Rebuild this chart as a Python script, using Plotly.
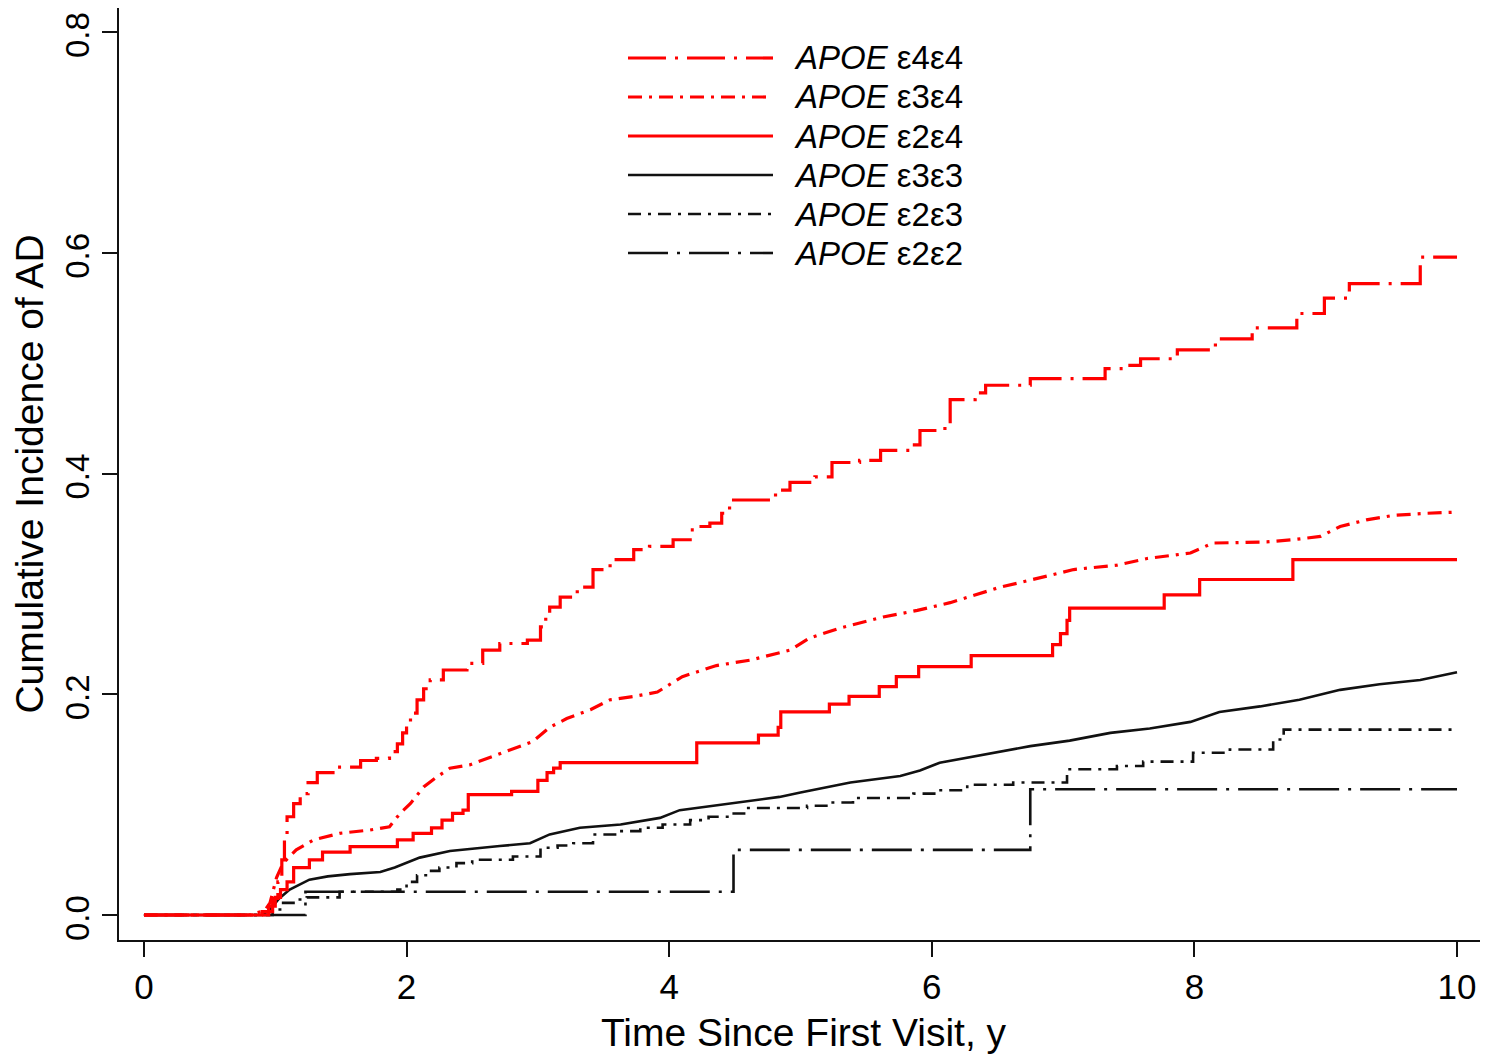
import plotly.graph_objects as go

# ---------------- data ----------------
genotypes = ["ε4ε4", "ε3ε4", "ε2ε4", "ε3ε3", "ε2ε3", "ε2ε2"]

e44_x = [0, 0.9, 0.98, 1.02, 1.05, 1.07, 1.09, 1.14, 1.19, 1.25, 1.32, 1.47, 1.65, 1.77, 1.87,
         1.93, 1.97, 2.0, 2.03, 2.08, 2.13, 2.18, 2.28, 2.46, 2.58, 2.71, 2.92, 3.02, 3.06, 3.09,
         3.17, 3.3, 3.42, 3.55, 3.73, 3.85, 4.03, 4.16, 4.23, 4.31, 4.4, 4.46, 4.81, 4.92, 5.11,
         5.24, 5.45, 5.61, 5.83, 5.91, 6.1, 6.14, 6.33, 6.41, 6.75, 7.32, 7.47, 7.59, 7.87, 8.16,
         8.44, 8.78, 8.99, 9.18, 9.72, 10]
e44_y = [0, 0.003, 0.015, 0.03, 0.05, 0.068, 0.089, 0.101, 0.11, 0.12, 0.129, 0.134, 0.14, 0.142, 0.148,
         0.155, 0.165, 0.175, 0.183, 0.195, 0.205, 0.213, 0.222, 0.228, 0.24, 0.246, 0.249, 0.261, 0.27, 0.279,
         0.288, 0.297, 0.313, 0.322, 0.331, 0.334, 0.34, 0.349, 0.352, 0.355, 0.364, 0.376, 0.385, 0.392, 0.397,
         0.41, 0.412, 0.421, 0.426, 0.439, 0.447, 0.467, 0.473, 0.48, 0.486, 0.495, 0.498, 0.504, 0.512, 0.522,
         0.532, 0.545, 0.559, 0.572, 0.596, 0.596]

e34_x = [0, 0.8, 0.92, 0.96, 1.01, 1.06, 1.16, 1.29, 1.49, 1.72, 1.87, 1.95, 2.03, 2.13, 2.23, 2.33,
         2.48, 2.64, 2.81, 2.96, 3.09, 3.22, 3.4, 3.55, 3.73, 3.91, 4.1, 4.36, 4.62, 4.92, 5.07, 5.3,
         5.63, 5.89, 6.14, 6.27, 6.52, 6.77, 7.08, 7.41, 7.64, 7.97, 8.14, 8.55, 8.75, 8.96, 9.11, 9.31,
         9.51, 9.77, 10]
e34_y = [0, 0, 0.004, 0.011, 0.034, 0.047, 0.059, 0.068, 0.074, 0.077, 0.08, 0.092, 0.101, 0.116, 0.125, 0.133,
         0.136, 0.143, 0.151, 0.157, 0.17, 0.178, 0.186, 0.195, 0.198, 0.202, 0.216, 0.226, 0.231, 0.24, 0.251, 0.26,
         0.27, 0.276, 0.283, 0.288, 0.297, 0.304, 0.313, 0.317, 0.323, 0.328, 0.337, 0.338, 0.34, 0.343, 0.352, 0.358,
         0.362, 0.364, 0.365]

e24_x = [0, 0.95, 1.0, 1.04, 1.09, 1.14, 1.26, 1.36, 1.57, 1.93, 2.05, 2.19, 2.27, 2.35, 2.43, 2.47,
         2.8, 3.0, 3.07, 3.12, 3.17, 4.21, 4.68, 4.83, 4.85, 5.22, 5.37, 5.6, 5.73, 5.9, 6.3, 6.92,
         6.98, 7.03, 7.05, 7.77, 8.04, 8.75, 10]
e24_y = [0, 0.008, 0.016, 0.023, 0.03, 0.043, 0.05, 0.057, 0.062, 0.068, 0.074, 0.079, 0.086, 0.092, 0.095, 0.109,
         0.112, 0.122, 0.129, 0.133, 0.138, 0.156, 0.163, 0.17, 0.184, 0.191, 0.198, 0.207, 0.216, 0.225, 0.235, 0.245,
         0.255, 0.267, 0.278, 0.29, 0.304, 0.322, 0.322]

e33_x = [0, 0.9, 0.96, 1.03, 1.11, 1.26, 1.4, 1.57, 1.8, 1.91, 2.1, 2.33, 2.71, 2.94, 3.09, 3.32,
         3.63, 3.93, 4.08, 4.39, 4.84, 5.0, 5.38, 5.76, 5.91, 6.06, 6.52, 6.75, 7.05, 7.36, 7.66, 7.97,
         8.19, 8.5, 8.8, 9.11, 9.41, 9.72, 10]
e33_y = [0, 0, 0.005, 0.015, 0.023, 0.032, 0.035, 0.037, 0.039, 0.043, 0.052, 0.058, 0.0625, 0.065, 0.073, 0.079,
         0.082, 0.088, 0.095, 0.10, 0.107, 0.111, 0.12, 0.126, 0.131, 0.138, 0.148, 0.153, 0.158, 0.165, 0.169, 0.175,
         0.184, 0.189, 0.195, 0.204, 0.209, 0.213, 0.22]

e23_x = [0, 0.98, 1.06, 1.15, 1.24, 1.49, 1.93, 2.0, 2.08, 2.17, 2.25, 2.38, 2.5, 2.81, 3.02, 3.15,
         3.27, 3.42, 3.6, 3.78, 3.95, 4.16, 4.3, 4.46, 4.59, 5.05, 5.22, 5.4, 5.86, 6.04, 6.27, 6.62,
         7.03, 7.41, 7.61, 7.99, 8.27, 8.6, 8.68, 10]
e23_y = [0, 0.005, 0.011, 0.014, 0.016, 0.021, 0.023, 0.03, 0.036, 0.04, 0.043, 0.047, 0.05, 0.053, 0.061, 0.063,
         0.065, 0.073, 0.076, 0.079, 0.082, 0.086, 0.089, 0.092, 0.097, 0.099, 0.102, 0.106, 0.11, 0.113, 0.118, 0.12,
         0.132, 0.135, 0.139, 0.147, 0.15, 0.159, 0.168, 0.168]

e22_x = [0, 1.23, 4.49, 6.75, 10]
e22_y = [0, 0.021, 0.059, 0.114, 0.114]

x_ticks = [0, 2, 4, 6, 8, 10]
y_ticks = [0.0, 0.2, 0.4, 0.6, 0.8]
x_title = "Time Since First Visit, y"
y_title = "Cumulative Incidence of AD"

# ---------------- styles ----------------
RED = "#ff0000"
BLK = "#111111"
FONT = "Liberation Sans, Arial, sans-serif"

series = [
    (e44_x, e44_y, RED, 3.2, "38px,9px,3px,9px", "hv"),
    (e34_x, e34_y, RED, 3.2, "14px,7px,3px,7px", "linear"),
    (e24_x, e24_y, RED, 3.2, "solid", "hv"),
    (e33_x, e33_y, BLK, 2.6, "solid", "linear"),
    (e23_x, e23_y, BLK, 2.6, "13px,7px,3px,7px", "hv"),
    (e22_x, e22_y, BLK, 2.6, "40px,9px,3px,9px", "hv"),
]

fig = go.Figure()
for (xs, ys, col, w, dash, shape), g in reversed(list(zip(series, genotypes))):
    fig.add_trace(go.Scatter(x=xs, y=ys, mode="lines", name="APOE " + g,
                             line=dict(color=col, width=w, dash=dash, shape=shape),
                             showlegend=False))

# The page body adds an 8px offset, so the figure is laid out 8px smaller.
OFF = 8
W, H = 1488 - OFF, 1062 - OFF
ML, MR, MT, MB = 119 - OFF, 0, 8 - OFF, 122
PW, PH = W - ML - MR, H - MT - MB


def px_x(px):
    return (px - OFF - ML) / PW


def px_y(py):
    return (H - MB - (py - OFF)) / PH


# manual legend (long line samples like the reference)
row_y = [58, 97, 136, 175, 214, 253]
shapes = []
annotations = []
for (xs, ys, col, w, dash, shape), g, ry in zip(series, genotypes, row_y):
    shapes.append(dict(type="line", xref="paper", yref="paper",
                       x0=px_x(628), x1=px_x(773), y0=px_y(ry), y1=px_y(ry),
                       line=dict(color=col, width=w, dash=dash)))
    annotations.append(dict(xref="paper", yref="paper", x=px_x(792), y=px_y(ry),
                            xanchor="left", yanchor="middle", showarrow=False,
                            text="<i>APOE</i> " + g,
                            font=dict(family=FONT, size=33, color="black")))

fig.update_layout(
    width=W, height=H,
    margin=dict(l=ML, r=MR, t=MT, b=MB, autoexpand=False),
    paper_bgcolor="white", plot_bgcolor="white",
    font=dict(family=FONT, color="black"),
    shapes=shapes, annotations=annotations,
    showlegend=False,
)
fig.update_xaxes(
    range=[-0.19, 10.236], tickvals=x_ticks, ticktext=[str(v) for v in x_ticks],
    showline=True, linecolor=BLK, linewidth=2, showgrid=False, zeroline=False,
    ticks="outside", ticklen=15, tickwidth=2, tickcolor=BLK, automargin=False,
    tickfont=dict(family=FONT, size=35, color="black"), ticklabelstandoff=0,
    title=dict(text=x_title, font=dict(family=FONT, size=39, color="black"), standoff=14),
)
fig.update_yaxes(
    range=[-0.02265, 0.8218], tickvals=y_ticks, ticktext=["%.1f" % v for v in y_ticks],
    showline=True, linecolor=BLK, linewidth=2, showgrid=False, zeroline=False,
    ticks="outside", ticklen=15, tickwidth=2, tickcolor=BLK, tickangle=-90, automargin=False,
    tickfont=dict(family=FONT, size=33, color="black"), ticklabeloverflow="allow",
    ticklabelshift=8,
    title=dict(text=y_title, font=dict(family=FONT, size=39, color="black"), standoff=14),
)

fig.write_html("out.html")
